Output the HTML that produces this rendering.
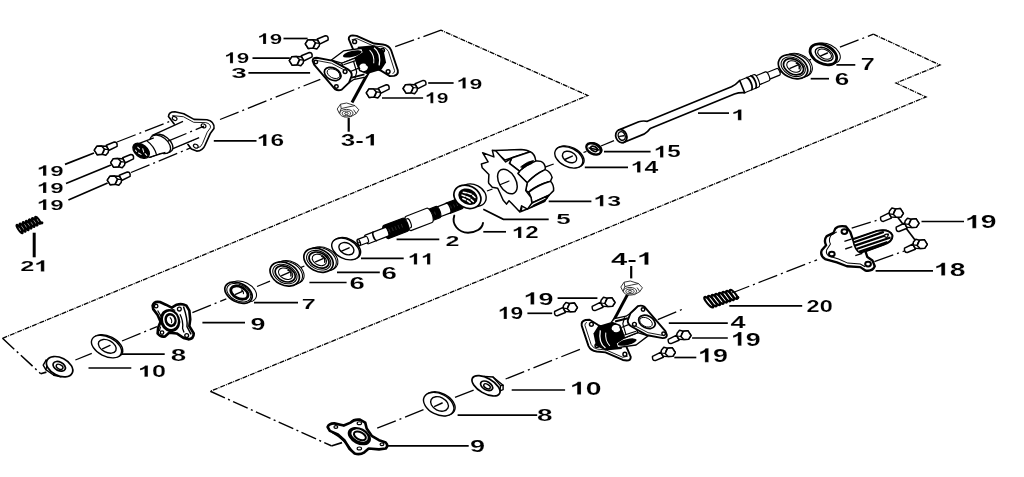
<!DOCTYPE html>
<html><head><meta charset="utf-8"><title>Parts diagram</title>
<style>
html,body{margin:0;padding:0;background:#fff;}
body{width:1024px;height:477px;overflow:hidden;font-family:"Liberation Sans",sans-serif;}
svg{display:block;}
.g1{fill:#000;stroke:#fff;stroke-width:18;}
text{font-family:"Liberation Sans",sans-serif;font-weight:bold;fill:#000;stroke:#fff;stroke-width:0.13px;}
.ld{stroke:#000;stroke-width:1.7;fill:none;}
.ld2{stroke:#000;stroke-width:1.3;fill:none;}
.tk{stroke:#000;stroke-width:3;fill:none;}
.tk2{stroke:#000;stroke-width:2.2;fill:none;}
.bd{stroke:#000;stroke-width:1.3;fill:none;stroke-dasharray:5 1 1 1;}
.ax2{stroke:#000;stroke-width:1.5;fill:none;stroke-dasharray:16 3.5 2 3.5;}
.ax{stroke:#000;stroke-width:1.3;fill:none;stroke-dasharray:20 4 2 4;}
.p{stroke:#000;stroke-width:1.4;fill:#fff;stroke-linejoin:round;stroke-linecap:round;}
.pn{stroke:#000;stroke-width:1.4;fill:none;stroke-linejoin:round;stroke-linecap:round;}
.pt{stroke:#000;stroke-width:1.05;fill:#fff;}
.pm{stroke:#000;stroke-width:1.7;fill:#fff;}
.pk3{stroke:#000;stroke-width:2.8;fill:#fff;}
.pk{stroke:#000;stroke-width:2.4;fill:#fff;stroke-linejoin:round;}
.pkn{stroke:#000;stroke-width:2.4;fill:none;stroke-linejoin:round;stroke-linecap:round;}
.f{fill:#000;stroke:none;}
.t{stroke:#000;stroke-width:0.8;fill:none;stroke-linecap:round;}
</style></head>
<body>
<svg width="1024" height="477" viewBox="0 0 1024 477">
<rect width="1024" height="477" fill="#fff"/>
<filter id="soft" x="0" y="0" width="1024" height="477" filterUnits="userSpaceOnUse"><feGaussianBlur stdDeviation="0.35"/></filter>
<g filter="url(#soft)">
<g id="lines">
<polyline class="ax2" points="2.5,338.3 40.7,373.7"/>
<polyline class="bd" points="2.5,338.3 587.8,95.5 441,30.2"/>
<polyline class="bd" points="873.4,34.2 940,65 896,83 926,97 210.3,391.3"/>
<polyline class="ax2" points="210.3,391.3 331.3,445.8"/>
<line class="ax" x1="75.4" y1="360" x2="91.8" y2="353.3"/>
<line class="ax" x1="122" y1="341" x2="157" y2="326.7"/>
<line class="ax" x1="192.4" y1="312.7" x2="226.3" y2="298.9"/>
<line class="ax" x1="257" y1="286.5" x2="270" y2="281.2"/>
<line class="ax" x1="839.9" y1="47.2" x2="873.4" y2="34.2"/>
<line class="ax" x1="601" y1="146" x2="614" y2="140.7"/>
<line class="ld2" x1="487" y1="191" x2="492.5" y2="189"/>
<line class="ld2" x1="545" y1="167.2" x2="553.7" y2="164"/>
<line class="ld2" x1="583.5" y1="152.5" x2="586.5" y2="151.3"/>
<line class="ld2" x1="779.5" y1="72.3" x2="783" y2="70.9"/>
<line class="ld2" x1="807.5" y1="60.8" x2="811" y2="59.4"/>
<line class="ld2" x1="300.6" y1="267.6" x2="304.4" y2="266"/>
<line class="ld2" x1="333.5" y1="254.3" x2="337" y2="252.9"/>
<line class="ax" x1="220" y1="119.5" x2="320.3" y2="79.3"/>
<line class="ax" x1="395.2" y1="46.7" x2="441" y2="30.2"/>
<line class="ax" x1="117" y1="142" x2="173.5" y2="120"/>
<line class="ax" x1="131" y1="172.5" x2="193.6" y2="146.6"/>
<line class="ax" x1="150" y1="157.5" x2="200" y2="137"/>
<line class="ax" x1="377.2" y1="428.2" x2="423.5" y2="409.7"/>
<line class="ax" x1="455" y1="397.4" x2="474" y2="390"/>
<line class="ax" x1="505.6" y1="379" x2="582.3" y2="348.4"/>
<line class="ax" x1="657.8" y1="319.6" x2="683.9" y2="308.6"/>
<line class="ax" x1="730.6" y1="293.5" x2="817" y2="259.8"/>
<line class="ax" x1="851.7" y1="228.2" x2="880.4" y2="219.2"/>
<line class="ax" x1="874.4" y1="261.7" x2="904.3" y2="251"/>
<line class="ld" x1="283.5" y1="38.5" x2="307.6" y2="38.5"/>
<line class="ld" x1="252.5" y1="58.1" x2="289.8" y2="58.1"/>
<line class="ld" x1="248.4" y1="72.8" x2="310.1" y2="72.8"/>
<line class="ld" x1="428.2" y1="83" x2="453.6" y2="83"/>
<line class="ld" x1="382" y1="98" x2="423.1" y2="98"/>
<line class="ld" x1="213.8" y1="140.8" x2="256.5" y2="140.8"/>
<line class="ld" x1="65" y1="164.4" x2="94" y2="153"/>
<line class="ld" x1="66" y1="183.5" x2="111" y2="165"/>
<line class="ld" x1="68.4" y1="200" x2="107.6" y2="183"/>
<line class="ld" x1="88.5" y1="368" x2="131.3" y2="368"/>
<line class="ld" x1="122" y1="354.2" x2="164.7" y2="354.2"/>
<line class="ld" x1="202.4" y1="322.7" x2="245" y2="322.7"/>
<line class="ld" x1="254" y1="302.6" x2="298" y2="302.6"/>
<line class="ld" x1="309.4" y1="282.5" x2="346.6" y2="282.5"/>
<line class="ld" x1="337" y1="272.4" x2="379.8" y2="272.4"/>
<line class="ld" x1="361" y1="258.3" x2="403.7" y2="258.3"/>
<line class="ld" x1="396.6" y1="239.4" x2="439.3" y2="239.4"/>
<line class="ld" x1="483.3" y1="231.8" x2="506" y2="231.8"/>
<line class="ld" x1="548.7" y1="201.4" x2="591.4" y2="201.4"/>
<line class="ld" x1="584.8" y1="167.4" x2="628" y2="167.4"/>
<line class="ld" x1="604" y1="151.6" x2="650.6" y2="151.6"/>
<line class="ld" x1="698" y1="113.1" x2="729" y2="113.1"/>
<line class="ld" x1="836.4" y1="64.9" x2="855.3" y2="64.9"/>
<line class="ld" x1="810.7" y1="78.7" x2="829" y2="78.7"/>
<line class="ld" x1="921.5" y1="221.5" x2="964" y2="221.5"/>
<line class="ld" x1="875.6" y1="270.8" x2="933" y2="270.8"/>
<line class="ld" x1="729.3" y1="305.9" x2="802.2" y2="305.9"/>
<line class="ld" x1="668.8" y1="323.2" x2="727.8" y2="323.2"/>
<line class="ld" x1="692.1" y1="338" x2="727.8" y2="338"/>
<line class="ld" x1="674.3" y1="357.5" x2="696.3" y2="357.5"/>
<line class="ld" x1="557.6" y1="298.2" x2="597.4" y2="298.2"/>
<line class="ld" x1="527.4" y1="313.3" x2="552.2" y2="313.3"/>
<line class="ld" x1="511.7" y1="390" x2="565.1" y2="390"/>
<line class="ld" x1="457.6" y1="415.1" x2="537.2" y2="415.1"/>
<line class="ld" x1="387.9" y1="445.8" x2="468.7" y2="445.8"/>
<polyline class="ld" points="483.3,209.2 503.4,219.3 548.7,219.3"/>
<line class="tk" x1="34.2" y1="232.7" x2="34.2" y2="257.3"/>
<line class="tk2" x1="348.7" y1="117.8" x2="348.7" y2="131.7"/>
<line class="tk" x1="352" y1="102.5" x2="368.6" y2="72"/>
<line class="tk2" x1="631.2" y1="266" x2="631.2" y2="278.4"/>
<line class="tk" x1="627.6" y1="294.4" x2="611.2" y2="325.1"/>
<line class="ld" x1="896" y1="215" x2="919.8" y2="246.2"/>
<g transform="translate(257.3 44.1) scale(1.469 1)">
<path class="g1" transform="translate(0.00 0) scale(0.00743 -0.00743)" d="M806,0 L525,0 L525,1059 Q371,915 162,846 L162,1101 Q272,1137 401,1237.5 Q530,1338 578,1472 L806,1472 Z"/>
<text x="8.46" y="0" font-size="15.22">9</text>
</g>
<g transform="translate(224.2 63.2) scale(1.462 1)">
<path class="g1" transform="translate(0.00 0) scale(0.00750 -0.00750)" d="M806,0 L525,0 L525,1059 Q371,915 162,846 L162,1101 Q272,1137 401,1237.5 Q530,1338 578,1472 L806,1472 Z"/>
<text x="8.54" y="0" font-size="15.36">9</text>
</g>
<g transform="translate(231.3 78.4) scale(1.835 1)">
<text x="0.00" y="0" font-size="15.22">3</text>
</g>
<g transform="translate(456.6 88.5) scale(1.501 1)">
<path class="g1" transform="translate(0.00 0) scale(0.00750 -0.00750)" d="M806,0 L525,0 L525,1059 Q371,915 162,846 L162,1101 Q272,1137 401,1237.5 Q530,1338 578,1472 L806,1472 Z"/>
<text x="8.54" y="0" font-size="15.36">9</text>
</g>
<g transform="translate(425.0 103.3) scale(1.383 1)">
<path class="g1" transform="translate(0.00 0) scale(0.00743 -0.00743)" d="M806,0 L525,0 L525,1059 Q371,915 162,846 L162,1101 Q272,1137 401,1237.5 Q530,1338 578,1472 L806,1472 Z"/>
<text x="8.46" y="0" font-size="15.22">9</text>
</g>
<g transform="translate(256.8 145.9) scale(1.510 1)">
<path class="g1" transform="translate(0.00 0) scale(0.00791 -0.00791)" d="M806,0 L525,0 L525,1059 Q371,915 162,846 L162,1101 Q272,1137 401,1237.5 Q530,1338 578,1472 L806,1472 Z"/>
<text x="9.01" y="0" font-size="16.20">6</text>
</g>
<g transform="translate(340.7 145.5) scale(1.618 1)">
<text x="0.00" y="0" font-size="16.06">3</text>
<text x="8.93" y="0" font-size="16.06">-</text>
<path class="g1" transform="translate(14.28 0) scale(0.00784 -0.00784)" d="M806,0 L525,0 L525,1059 Q371,915 162,846 L162,1101 Q272,1137 401,1237.5 Q530,1338 578,1472 L806,1472 Z"/>
</g>
<g transform="translate(36.8 175.8) scale(1.633 1)">
<path class="g1" transform="translate(0.00 0) scale(0.00723 -0.00723)" d="M806,0 L525,0 L525,1059 Q371,915 162,846 L162,1101 Q272,1137 401,1237.5 Q530,1338 578,1472 L806,1472 Z"/>
<text x="8.23" y="0" font-size="14.80">9</text>
</g>
<g transform="translate(36.8 193.0) scale(1.617 1)">
<path class="g1" transform="translate(0.00 0) scale(0.00730 -0.00730)" d="M806,0 L525,0 L525,1059 Q371,915 162,846 L162,1101 Q272,1137 401,1237.5 Q530,1338 578,1472 L806,1472 Z"/>
<text x="8.31" y="0" font-size="14.94">9</text>
</g>
<g transform="translate(36.8 210.0) scale(1.633 1)">
<path class="g1" transform="translate(0.00 0) scale(0.00723 -0.00723)" d="M806,0 L525,0 L525,1059 Q371,915 162,846 L162,1101 Q272,1137 401,1237.5 Q530,1338 578,1472 L806,1472 Z"/>
<text x="8.23" y="0" font-size="14.80">9</text>
</g>
<g transform="translate(20.2 271.4) scale(1.637 1)">
<text x="0.00" y="0" font-size="15.50">2</text>
<path class="g1" transform="translate(8.62 0) scale(0.00757 -0.00757)" d="M806,0 L525,0 L525,1059 Q371,915 162,846 L162,1101 Q272,1137 401,1237.5 Q530,1338 578,1472 L806,1472 Z"/>
</g>
<g transform="translate(138.0 376.8) scale(1.595 1)">
<path class="g1" transform="translate(0.00 0) scale(0.00771 -0.00771)" d="M806,0 L525,0 L525,1059 Q371,915 162,846 L162,1101 Q272,1137 401,1237.5 Q530,1338 578,1472 L806,1472 Z"/>
<text x="8.77" y="0" font-size="15.78">0</text>
</g>
<g transform="translate(170.8 360.5) scale(1.727 1)">
<text x="0.00" y="0" font-size="16.06">8</text>
</g>
<g transform="translate(250.4 329.6) scale(1.719 1)">
<text x="0.00" y="0" font-size="15.64">9</text>
</g>
<g transform="translate(301.7 308.6) scale(1.641 1)">
<text x="0.00" y="0" font-size="15.36">7</text>
</g>
<g transform="translate(349.5 289.3) scale(1.656 1)">
<text x="0.00" y="0" font-size="16.62">6</text>
</g>
<g transform="translate(381.6 278.5) scale(1.669 1)">
<text x="0.00" y="0" font-size="16.62">6</text>
</g>
<g transform="translate(407.8 264.6) scale(1.499 1)">
<path class="g1" transform="translate(0.00 0) scale(0.00771 -0.00771)" d="M806,0 L525,0 L525,1059 Q371,915 162,846 L162,1101 Q272,1137 401,1237.5 Q530,1338 578,1472 L806,1472 Z"/>
<path class="g1" transform="translate(8.77 0) scale(0.00771 -0.00771)" d="M806,0 L525,0 L525,1059 Q371,915 162,846 L162,1101 Q272,1137 401,1237.5 Q530,1338 578,1472 L806,1472 Z"/>
</g>
<g transform="translate(445.6 245.7) scale(1.689 1)">
<text x="0.00" y="0" font-size="14.80">2</text>
</g>
<g transform="translate(511.8 238.1) scale(1.531 1)">
<path class="g1" transform="translate(0.00 0) scale(0.00771 -0.00771)" d="M806,0 L525,0 L525,1059 Q371,915 162,846 L162,1101 Q272,1137 401,1237.5 Q530,1338 578,1472 L806,1472 Z"/>
<text x="8.77" y="0" font-size="15.78">2</text>
</g>
<g transform="translate(556.2 223.5) scale(1.696 1)">
<text x="0.00" y="0" font-size="15.36">5</text>
</g>
<g transform="translate(593.5 206.2) scale(1.611 1)">
<path class="g1" transform="translate(0.00 0) scale(0.00757 -0.00757)" d="M806,0 L525,0 L525,1059 Q371,915 162,846 L162,1101 Q272,1137 401,1237.5 Q530,1338 578,1472 L806,1472 Z"/>
<text x="8.62" y="0" font-size="15.50">3</text>
</g>
<g transform="translate(630.7 172.5) scale(1.570 1)">
<path class="g1" transform="translate(0.00 0) scale(0.00771 -0.00771)" d="M806,0 L525,0 L525,1059 Q371,915 162,846 L162,1101 Q272,1137 401,1237.5 Q530,1338 578,1472 L806,1472 Z"/>
<text x="8.77" y="0" font-size="15.78">4</text>
</g>
<g transform="translate(653.8 157.4) scale(1.498 1)">
<path class="g1" transform="translate(0.00 0) scale(0.00791 -0.00791)" d="M806,0 L525,0 L525,1059 Q371,915 162,846 L162,1101 Q272,1137 401,1237.5 Q530,1338 578,1472 L806,1472 Z"/>
<text x="9.01" y="0" font-size="16.20">5</text>
</g>
<g transform="translate(731.2 120.2) scale(1.758 1)">
<path class="g1" transform="translate(0.00 0) scale(0.00723 -0.00723)" d="M806,0 L525,0 L525,1059 Q371,915 162,846 L162,1101 Q272,1137 401,1237.5 Q530,1338 578,1472 L806,1472 Z"/>
</g>
<g transform="translate(860.7 70.2) scale(1.612 1)">
<text x="0.00" y="0" font-size="15.64">7</text>
</g>
<g transform="translate(834.7 85.0) scale(1.636 1)">
<text x="0.00" y="0" font-size="15.92">6</text>
</g>
<g transform="translate(965.1 228.2) scale(1.547 1)">
<path class="g1" transform="translate(0.00 0) scale(0.00893 -0.00893)" d="M806,0 L525,0 L525,1059 Q371,915 162,846 L162,1101 Q272,1137 401,1237.5 Q530,1338 578,1472 L806,1472 Z"/>
<text x="10.17" y="0" font-size="18.30">9</text>
</g>
<g transform="translate(934.0 275.6) scale(1.595 1)">
<path class="g1" transform="translate(0.00 0) scale(0.00866 -0.00866)" d="M806,0 L525,0 L525,1059 Q371,915 162,846 L162,1101 Q272,1137 401,1237.5 Q530,1338 578,1472 L806,1472 Z"/>
<text x="9.86" y="0" font-size="17.74">8</text>
</g>
<g transform="translate(806.6 312.4) scale(1.354 1)">
<text x="0.00" y="0" font-size="17.32">2</text>
<text x="9.63" y="0" font-size="17.32">0</text>
</g>
<g transform="translate(730.6 328.4) scale(1.687 1)">
<text x="0.00" y="0" font-size="16.06">4</text>
</g>
<g transform="translate(730.9 345.7) scale(1.405 1)">
<path class="g1" transform="translate(0.00 0) scale(0.00934 -0.00934)" d="M806,0 L525,0 L525,1059 Q371,915 162,846 L162,1101 Q272,1137 401,1237.5 Q530,1338 578,1472 L806,1472 Z"/>
<text x="10.64" y="0" font-size="19.13">9</text>
</g>
<g transform="translate(698.0 362.2) scale(1.395 1)">
<path class="g1" transform="translate(0.00 0) scale(0.00941 -0.00941)" d="M806,0 L525,0 L525,1059 Q371,915 162,846 L162,1101 Q272,1137 401,1237.5 Q530,1338 578,1472 L806,1472 Z"/>
<text x="10.72" y="0" font-size="19.27">9</text>
</g>
<g transform="translate(611.0 264.7) scale(1.700 1)">
<text x="0.00" y="0" font-size="17.18">4</text>
<text x="9.55" y="0" font-size="17.18">-</text>
<path class="g1" transform="translate(15.27 0) scale(0.00839 -0.00839)" d="M806,0 L525,0 L525,1059 Q371,915 162,846 L162,1101 Q272,1137 401,1237.5 Q530,1338 578,1472 L806,1472 Z"/>
</g>
<g transform="translate(523.6 304.5) scale(1.571 1)">
<path class="g1" transform="translate(0.00 0) scale(0.00839 -0.00839)" d="M806,0 L525,0 L525,1059 Q371,915 162,846 L162,1101 Q272,1137 401,1237.5 Q530,1338 578,1472 L806,1472 Z"/>
<text x="9.55" y="0" font-size="17.18">9</text>
</g>
<g transform="translate(497.9 319.0) scale(1.325 1)">
<path class="g1" transform="translate(0.00 0) scale(0.00839 -0.00839)" d="M806,0 L525,0 L525,1059 Q371,915 162,846 L162,1101 Q272,1137 401,1237.5 Q530,1338 578,1472 L806,1472 Z"/>
<text x="9.55" y="0" font-size="17.18">9</text>
</g>
<g transform="translate(569.9 394.6) scale(1.583 1)">
<path class="g1" transform="translate(0.00 0) scale(0.00873 -0.00873)" d="M806,0 L525,0 L525,1059 Q371,915 162,846 L162,1101 Q272,1137 401,1237.5 Q530,1338 578,1472 L806,1472 Z"/>
<text x="9.94" y="0" font-size="17.88">0</text>
</g>
<g transform="translate(537.0 421.2) scale(1.626 1)">
<text x="0.00" y="0" font-size="17.18">8</text>
</g>
<g transform="translate(470.1 451.6) scale(1.631 1)">
<text x="0.00" y="0" font-size="16.62">9</text>
</g>
</g>
<g id="parts">
<ellipse class="p" cx="107.7" cy="346.0" rx="16.2" ry="9.6" transform="rotate(27 107.7 346.0)"/>
<ellipse class="p" cx="106.5" cy="346.6" rx="16.2" ry="9.6" transform="rotate(27 106.5 346.6)"/>
<ellipse class="p" cx="107.3" cy="346.3" rx="9.6" ry="6.0" transform="rotate(27 107.3 346.3)"/>
<path class="pn" d="M102.5,348.8 L110.0,345.4"/>
<ellipse class="pt" cx="243.0" cy="291.5" rx="14.4" ry="9.3" transform="rotate(27 243.0 291.5)"/>
<ellipse class="pm" cx="238.5" cy="292.7" rx="14.6" ry="9.4" transform="rotate(27 238.5 292.7)"/>
<ellipse class="pt" cx="238.8" cy="292.7" rx="12.8" ry="8.1" transform="rotate(27 238.8 292.7)"/>
<ellipse class="pk3" cx="239.4" cy="292.6" rx="9.2" ry="5.8" transform="rotate(27 239.4 292.6)"/>
<path class="pn" d="M235.5,294.3 L242.5,291.3"/>
<path class="pt" style="fill:none" d="M241.0,289.7 q3,1.2 2.4,4.4"/>
<ellipse class="pt" cx="289.7" cy="272.4" rx="15.2" ry="10.8" transform="rotate(27 289.7 272.4)"/>
<ellipse class="pt" cx="287.9" cy="273.0" rx="15.4" ry="10.9" transform="rotate(27 287.9 273.0)"/>
<ellipse class="pm" cx="284.7" cy="274.0" rx="15.5" ry="11.0" transform="rotate(27 284.7 274.0)"/>
<ellipse class="pt" cx="284.9" cy="274.0" rx="12.8" ry="8.9" transform="rotate(27 284.9 274.0)"/>
<ellipse class="pm" cx="285.2" cy="273.9" rx="10.6" ry="7.3" transform="rotate(27 285.2 273.9)"/>
<ellipse class="pt" cx="285.6" cy="273.7" rx="7.6" ry="5.2" transform="rotate(27 285.6 273.7)"/>
<path class="pn" d="M281.7,275.6 L289.2,272.4"/>
<path class="pn" d="M287.9,270.2 q3.8,1.4 3.0,5.8"/>
<ellipse class="pt" cx="323.5" cy="258.6" rx="15.2" ry="10.8" transform="rotate(27 323.5 258.6)"/>
<ellipse class="pt" cx="321.7" cy="259.2" rx="15.4" ry="10.9" transform="rotate(27 321.7 259.2)"/>
<ellipse class="pm" cx="318.5" cy="260.2" rx="15.5" ry="11.0" transform="rotate(27 318.5 260.2)"/>
<ellipse class="pt" cx="318.7" cy="260.2" rx="12.8" ry="8.9" transform="rotate(27 318.7 260.2)"/>
<ellipse class="pm" cx="319.0" cy="260.1" rx="10.6" ry="7.3" transform="rotate(27 319.0 260.1)"/>
<ellipse class="pt" cx="319.4" cy="259.9" rx="7.6" ry="5.2" transform="rotate(27 319.4 259.9)"/>
<path class="pn" d="M315.5,261.8 L323.0,258.6"/>
<path class="pn" d="M321.7,256.4 q3.8,1.4 3.0,5.8"/>
<ellipse class="p" cx="346.8" cy="248.4" rx="14.8" ry="9.6" transform="rotate(27 346.8 248.4)"/>
<ellipse class="p" cx="345.6" cy="249.0" rx="14.8" ry="9.6" transform="rotate(27 345.6 249.0)"/>
<ellipse class="p" cx="346.4" cy="248.7" rx="8.0" ry="5.6" transform="rotate(27 346.4 248.7)"/>
<path class="pn" d="M341.6,251.2 L349.1,247.8"/>
<ellipse class="p" cx="570.0" cy="156.7" rx="15.0" ry="9.4" transform="rotate(27 570.0 156.7)"/>
<ellipse class="p" cx="568.8" cy="157.3" rx="15.0" ry="9.4" transform="rotate(27 568.8 157.3)"/>
<ellipse class="p" cx="569.6" cy="157.0" rx="7.6" ry="5.2" transform="rotate(27 569.6 157.0)"/>
<path class="pn" d="M564.8,159.5 L572.3,156.1"/>
<ellipse class="pt" cx="798.0" cy="65.2" rx="15.2" ry="10.8" transform="rotate(27 798.0 65.2)"/>
<ellipse class="pt" cx="796.2" cy="65.8" rx="15.4" ry="10.9" transform="rotate(27 796.2 65.8)"/>
<ellipse class="pm" cx="793.0" cy="66.8" rx="15.5" ry="11.0" transform="rotate(27 793.0 66.8)"/>
<ellipse class="pt" cx="793.2" cy="66.8" rx="12.8" ry="8.9" transform="rotate(27 793.2 66.8)"/>
<ellipse class="pm" cx="793.5" cy="66.7" rx="10.6" ry="7.3" transform="rotate(27 793.5 66.7)"/>
<ellipse class="pt" cx="793.9" cy="66.5" rx="7.6" ry="5.2" transform="rotate(27 793.9 66.5)"/>
<path class="pn" d="M790.0,68.4 L797.5,65.2"/>
<path class="pn" d="M796.2,63.0 q3.8,1.4 3.0,5.8"/>
<ellipse class="pt" cx="827.0" cy="53.4" rx="14.2" ry="9.2" transform="rotate(27 827.0 53.4)"/>
<ellipse class="pk3" cx="823.4" cy="54.4" rx="14.2" ry="9.2" transform="rotate(27 823.4 54.4)"/>
<ellipse class="p" cx="824.2" cy="54.2" rx="9.6" ry="6.0" transform="rotate(27 824.2 54.2)"/>
<ellipse class="pt" cx="824.6" cy="54.1" rx="7.4" ry="4.4" transform="rotate(27 824.6 54.1)"/>
<path class="pn" d="M820.8,55.8 L827.4,53.0"/>
<ellipse class="p" cx="439.9" cy="403.6" rx="16.2" ry="10.4" transform="rotate(27 439.9 403.6)"/>
<ellipse class="p" cx="438.7" cy="404.2" rx="16.2" ry="10.4" transform="rotate(27 438.7 404.2)"/>
<ellipse class="p" cx="439.5" cy="403.9" rx="9.4" ry="6.6" transform="rotate(27 439.5 403.9)"/>
<path class="pn" d="M434.7,406.4 L442.2,403.0"/>
<g transform="translate(305.0 36.5)" stroke="#000" stroke-width="1.5" fill="#fff" stroke-linejoin="round">
<path d="M12.3,2.5 L20.3,-0.8 Q23.6,-1 23.1,3.5 L14.6,7.7 Z"/>
<path d="M0.3,7.3 L2.8,3.5 L7.5,3.3 L12.3,3.5 L14.6,6.8 L14.2,9.6 L11.8,12.5 L8,11.5 L3.3,12 Z"/>
<path d="M0.3,7.3 L2.8,3.5 L7.5,3.3 L10.4,6.3 L8,11.5 L3.3,12 Z"/>
<path d="M10.4,6.3 L14.6,6.8 M8,11.5 L9.6,9.2 L10.4,6.3" fill="none" stroke-width="1.2"/>
</g>
<g transform="translate(289.0 53.3)" stroke="#000" stroke-width="1.5" fill="#fff" stroke-linejoin="round">
<path d="M12.3,2.5 L20.3,-0.8 Q23.6,-1 23.1,3.5 L14.6,7.7 Z"/>
<path d="M0.3,7.3 L2.8,3.5 L7.5,3.3 L12.3,3.5 L14.6,6.8 L14.2,9.6 L11.8,12.5 L8,11.5 L3.3,12 Z"/>
<path d="M0.3,7.3 L2.8,3.5 L7.5,3.3 L10.4,6.3 L8,11.5 L3.3,12 Z"/>
<path d="M10.4,6.3 L14.6,6.8 M8,11.5 L9.6,9.2 L10.4,6.3" fill="none" stroke-width="1.2"/>
</g>
<g transform="translate(402.8 81.2)" stroke="#000" stroke-width="1.5" fill="#fff" stroke-linejoin="round">
<path d="M12.3,2.5 L20.3,-0.8 Q23.6,-1 23.1,3.5 L14.6,7.7 Z"/>
<path d="M0.3,7.3 L2.8,3.5 L7.5,3.3 L12.3,3.5 L14.6,6.8 L14.2,9.6 L11.8,12.5 L8,11.5 L3.3,12 Z"/>
<path d="M0.3,7.3 L2.8,3.5 L7.5,3.3 L10.4,6.3 L8,11.5 L3.3,12 Z"/>
<path d="M10.4,6.3 L14.6,6.8 M8,11.5 L9.6,9.2 L10.4,6.3" fill="none" stroke-width="1.2"/>
</g>
<g transform="translate(366.0 85.6)" stroke="#000" stroke-width="1.5" fill="#fff" stroke-linejoin="round">
<path d="M12.3,2.5 L20.3,-0.8 Q23.6,-1 23.1,3.5 L14.6,7.7 Z"/>
<path d="M0.3,7.3 L2.8,3.5 L7.5,3.3 L12.3,3.5 L14.6,6.8 L14.2,9.6 L11.8,12.5 L8,11.5 L3.3,12 Z"/>
<path d="M0.3,7.3 L2.8,3.5 L7.5,3.3 L10.4,6.3 L8,11.5 L3.3,12 Z"/>
<path d="M10.4,6.3 L14.6,6.8 M8,11.5 L9.6,9.2 L10.4,6.3" fill="none" stroke-width="1.2"/>
</g>
<g transform="translate(94.0 142.8)" stroke="#000" stroke-width="1.5" fill="#fff" stroke-linejoin="round">
<path d="M12.3,2.5 L20.3,-0.8 Q23.6,-1 23.1,3.5 L14.6,7.7 Z"/>
<path d="M0.3,7.3 L2.8,3.5 L7.5,3.3 L12.3,3.5 L14.6,6.8 L14.2,9.6 L11.8,12.5 L8,11.5 L3.3,12 Z"/>
<path d="M0.3,7.3 L2.8,3.5 L7.5,3.3 L10.4,6.3 L8,11.5 L3.3,12 Z"/>
<path d="M10.4,6.3 L14.6,6.8 M8,11.5 L9.6,9.2 L10.4,6.3" fill="none" stroke-width="1.2"/>
</g>
<g transform="translate(110.4 155.3)" stroke="#000" stroke-width="1.5" fill="#fff" stroke-linejoin="round">
<path d="M12.3,2.5 L20.3,-0.8 Q23.6,-1 23.1,3.5 L14.6,7.7 Z"/>
<path d="M0.3,7.3 L2.8,3.5 L7.5,3.3 L12.3,3.5 L14.6,6.8 L14.2,9.6 L11.8,12.5 L8,11.5 L3.3,12 Z"/>
<path d="M0.3,7.3 L2.8,3.5 L7.5,3.3 L10.4,6.3 L8,11.5 L3.3,12 Z"/>
<path d="M10.4,6.3 L14.6,6.8 M8,11.5 L9.6,9.2 L10.4,6.3" fill="none" stroke-width="1.2"/>
</g>
<g transform="translate(107.0 172.8)" stroke="#000" stroke-width="1.5" fill="#fff" stroke-linejoin="round">
<path d="M12.3,2.5 L20.3,-0.8 Q23.6,-1 23.1,3.5 L14.6,7.7 Z"/>
<path d="M0.3,7.3 L2.8,3.5 L7.5,3.3 L12.3,3.5 L14.6,6.8 L14.2,9.6 L11.8,12.5 L8,11.5 L3.3,12 Z"/>
<path d="M0.3,7.3 L2.8,3.5 L7.5,3.3 L10.4,6.3 L8,11.5 L3.3,12 Z"/>
<path d="M10.4,6.3 L14.6,6.8 M8,11.5 L9.6,9.2 L10.4,6.3" fill="none" stroke-width="1.2"/>
</g>
<g transform="translate(615.3 309.8) rotate(180)" stroke="#000" stroke-width="1.5" fill="#fff" stroke-linejoin="round">
<path d="M12.3,2.5 L20.3,-0.8 Q23.6,-1 23.1,3.5 L14.6,7.7 Z"/>
<path d="M0.3,7.3 L2.8,3.5 L7.5,3.3 L12.3,3.5 L14.6,6.8 L14.2,9.6 L11.8,12.5 L8,11.5 L3.3,12 Z"/>
<path d="M0.3,7.3 L2.8,3.5 L7.5,3.3 L10.4,6.3 L8,11.5 L3.3,12 Z"/>
<path d="M10.4,6.3 L14.6,6.8 M8,11.5 L9.6,9.2 L10.4,6.3" fill="none" stroke-width="1.2"/>
</g>
<g transform="translate(577.7 315.0) rotate(180)" stroke="#000" stroke-width="1.5" fill="#fff" stroke-linejoin="round">
<path d="M12.3,2.5 L20.3,-0.8 Q23.6,-1 23.1,3.5 L14.6,7.7 Z"/>
<path d="M0.3,7.3 L2.8,3.5 L7.5,3.3 L12.3,3.5 L14.6,6.8 L14.2,9.6 L11.8,12.5 L8,11.5 L3.3,12 Z"/>
<path d="M0.3,7.3 L2.8,3.5 L7.5,3.3 L10.4,6.3 L8,11.5 L3.3,12 Z"/>
<path d="M10.4,6.3 L14.6,6.8 M8,11.5 L9.6,9.2 L10.4,6.3" fill="none" stroke-width="1.2"/>
</g>
<g transform="translate(691.3 342.8) rotate(180)" stroke="#000" stroke-width="1.5" fill="#fff" stroke-linejoin="round">
<path d="M12.3,2.5 L20.3,-0.8 Q23.6,-1 23.1,3.5 L14.6,7.7 Z"/>
<path d="M0.3,7.3 L2.8,3.5 L7.5,3.3 L12.3,3.5 L14.6,6.8 L14.2,9.6 L11.8,12.5 L8,11.5 L3.3,12 Z"/>
<path d="M0.3,7.3 L2.8,3.5 L7.5,3.3 L10.4,6.3 L8,11.5 L3.3,12 Z"/>
<path d="M10.4,6.3 L14.6,6.8 M8,11.5 L9.6,9.2 L10.4,6.3" fill="none" stroke-width="1.2"/>
</g>
<g transform="translate(675.6 359.8) rotate(180)" stroke="#000" stroke-width="1.5" fill="#fff" stroke-linejoin="round">
<path d="M12.3,2.5 L20.3,-0.8 Q23.6,-1 23.1,3.5 L14.6,7.7 Z"/>
<path d="M0.3,7.3 L2.8,3.5 L7.5,3.3 L12.3,3.5 L14.6,6.8 L14.2,9.6 L11.8,12.5 L8,11.5 L3.3,12 Z"/>
<path d="M0.3,7.3 L2.8,3.5 L7.5,3.3 L10.4,6.3 L8,11.5 L3.3,12 Z"/>
<path d="M10.4,6.3 L14.6,6.8 M8,11.5 L9.6,9.2 L10.4,6.3" fill="none" stroke-width="1.2"/>
</g>
<g transform="translate(903.7 220.6) rotate(180)" stroke="#000" stroke-width="1.5" fill="#fff" stroke-linejoin="round">
<path d="M12.3,2.5 L20.3,-0.8 Q23.6,-1 23.1,3.5 L14.6,7.7 Z"/>
<path d="M0.3,7.3 L2.8,3.5 L7.5,3.3 L12.3,3.5 L14.6,6.8 L14.2,9.6 L11.8,12.5 L8,11.5 L3.3,12 Z"/>
<path d="M0.3,7.3 L2.8,3.5 L7.5,3.3 L10.4,6.3 L8,11.5 L3.3,12 Z"/>
<path d="M10.4,6.3 L14.6,6.8 M8,11.5 L9.6,9.2 L10.4,6.3" fill="none" stroke-width="1.2"/>
</g>
<g transform="translate(919.3 230.7) rotate(180)" stroke="#000" stroke-width="1.5" fill="#fff" stroke-linejoin="round">
<path d="M12.3,2.5 L20.3,-0.8 Q23.6,-1 23.1,3.5 L14.6,7.7 Z"/>
<path d="M0.3,7.3 L2.8,3.5 L7.5,3.3 L12.3,3.5 L14.6,6.8 L14.2,9.6 L11.8,12.5 L8,11.5 L3.3,12 Z"/>
<path d="M0.3,7.3 L2.8,3.5 L7.5,3.3 L10.4,6.3 L8,11.5 L3.3,12 Z"/>
<path d="M10.4,6.3 L14.6,6.8 M8,11.5 L9.6,9.2 L10.4,6.3" fill="none" stroke-width="1.2"/>
</g>
<g transform="translate(927.6 251.7) rotate(180)" stroke="#000" stroke-width="1.5" fill="#fff" stroke-linejoin="round">
<path d="M12.3,2.5 L20.3,-0.8 Q23.6,-1 23.1,3.5 L14.6,7.7 Z"/>
<path d="M0.3,7.3 L2.8,3.5 L7.5,3.3 L12.3,3.5 L14.6,6.8 L14.2,9.6 L11.8,12.5 L8,11.5 L3.3,12 Z"/>
<path d="M0.3,7.3 L2.8,3.5 L7.5,3.3 L10.4,6.3 L8,11.5 L3.3,12 Z"/>
<path d="M10.4,6.3 L14.6,6.8 M8,11.5 L9.6,9.2 L10.4,6.3" fill="none" stroke-width="1.2"/>
</g>
<g transform="translate(357.5 243.0) rotate(-21)">
<path d="M97,-5.5 L110,-5.5 A2.2,5.5 0 0 1 110,5.5 L97,5.5 A2.2,5.5 0 0 1 97,-5.5 Z" fill="#000" stroke="#000" stroke-width="1.2"/>
<path d="M100.2,-1.6 l0,3.0" stroke="#666" stroke-width="0.4"/>
<path d="M103.5,-1.6 l0,3.0" stroke="#666" stroke-width="0.4"/>
<path d="M106.8,-1.6 l0,3.0" stroke="#666" stroke-width="0.4"/>
<path d="M86,-5.2 L97,-5.2 A2.1,5.2 0 0 1 97,5.2 L86,5.2 A2.1,5.2 0 0 1 86,-5.2 Z" fill="#fff" stroke="#000" stroke-width="1.2"/>
<path d="M77,-6.0 L86,-6.0 A2.4,6.0 0 0 1 86,6.0 L77,6.0 A2.4,6.0 0 0 1 77,-6.0 Z" fill="#000" stroke="#000" stroke-width="1.2"/>
<path d="M80.0,-1.8 l0,3.3" stroke="#666" stroke-width="0.4"/>
<path d="M83.0,-1.8 l0,3.3" stroke="#666" stroke-width="0.4"/>
<path d="M55,-7.6 L77,-7.6 A3.0,7.6 0 0 1 77,7.6 L55,7.6 A3.0,7.6 0 0 1 55,-7.6 Z" fill="#fff" stroke="#000" stroke-width="1.2"/>
<path d="M51,-4.8 L55,-4.8 A1.9,4.8 0 0 1 55,4.8 L51,4.8 A1.9,4.8 0 0 1 51,-4.8 Z" fill="#fff" stroke="#000" stroke-width="1.2"/>
<path d="M31,-7.0 L51,-7.0 A2.8,7.0 0 0 1 51,7.0 L31,7.0 A2.8,7.0 0 0 1 31,-7.0 Z" fill="#000" stroke="#000" stroke-width="1.2"/>
<path d="M34.3,-2.1 l0,3.9" stroke="#666" stroke-width="0.4"/>
<path d="M37.7,-2.1 l0,3.9" stroke="#666" stroke-width="0.4"/>
<path d="M41.0,-2.1 l0,3.9" stroke="#666" stroke-width="0.4"/>
<path d="M44.3,-2.1 l0,3.9" stroke="#666" stroke-width="0.4"/>
<path d="M47.7,-2.1 l0,3.9" stroke="#666" stroke-width="0.4"/>
<path d="M10,-4.6 L31,-4.6 A1.8,4.6 0 0 1 31,4.6 L10,4.6 A1.8,4.6 0 0 1 10,-4.6 Z" fill="#fff" stroke="#000" stroke-width="1.2"/>
<path d="M1.5,-3.3 L10,-3.3 A1.3,3.3 0 0 1 10,3.3 L1.5,3.3 A1.3,3.3 0 0 1 1.5,-3.3 Z" fill="#fff" stroke="#000" stroke-width="1.2"/>
<path d="M19,-4.6 A1.8,4.6 0 0 0 19,4.6" fill="none" stroke="#000" stroke-width="1.7"/><ellipse cx="1.5" cy="0" rx="1.3" ry="3.3" fill="#fff" stroke="#000" stroke-width="1.3"/><circle cx="1.7" cy="0" r="0.9" fill="#000"/>
</g>
<g transform="translate(621.0 136.3) rotate(-22.3)">
<path d="M158,-3.6 L170,-3.6 A1.4,3.6 0 0 1 170,3.6 L158,3.6 A1.4,3.6 0 0 1 158,-3.6 Z" fill="#fff" stroke="#000" stroke-width="1.2"/>
<path d="M146,-4.8 L158,-4.8 A1.9,4.8 0 0 1 158,4.8 L146,4.8 A1.9,4.8 0 0 1 146,-4.8 Z" fill="#fff" stroke="#000" stroke-width="1.2"/>
<path d="M131,-6.6 L146,-6.6 A2.6,6.6 0 0 1 146,6.6 L131,6.6 A2.6,6.6 0 0 1 131,-6.6 Z" fill="#fff" stroke="#000" stroke-width="1.2"/>

</g>
<g transform="translate(621 136.3) rotate(-22.3)">
<path d="M0,-6.7 L22,-6.7 Q26,-6.4 30,-3.9 L121,-3.9 Q126,-4.2 131,-6.6 L131,6.6 Q126,4.2 121,3.9 L30,3.9 Q26,6.4 22,6.7 L0,6.7 Z" fill="#fff" stroke="#000" stroke-width="1.7" stroke-linejoin="round"/>
<ellipse cx="0.3" cy="0" rx="5.4" ry="6.7" fill="#fff" stroke="#000" stroke-width="1.8"/>
<ellipse class="pn" cx="0.8" cy="0" rx="3.4" ry="4.4"/>
<path class="pn" d="M-1.2,-0.4 L2.8,0.6"/>
<path d="M138,-6.6 A2.6,6.6 0 0 1 138,6.6 M142.5,-6.6 A2.6,6.6 0 0 1 142.5,6.6" fill="none" stroke="#000" stroke-width="1.8"/>
</g>
<ellipse class="p" cx="473.0" cy="195.2" rx="13.8" ry="10.6" transform="rotate(27 473.0 195.2)"/>
<ellipse class="pm" cx="467.4" cy="196.8" rx="14.1" ry="11.0" transform="rotate(27 467.4 196.8)"/>
<ellipse cx="468.0" cy="196.7" rx="9.4" ry="7.0" transform="rotate(27 468.0 196.7)" fill="#000" stroke="#000" stroke-width="1.5"/>
<g transform="translate(468.2 196.7) rotate(27)" stroke="#fff" stroke-width="1.5" stroke-linecap="round">
<path d="M-6.5,-1.8 L-3.5,-2.6 M-2,-3 L1.5,-3.6 M3.4,-3.2 L6.4,-2.4 M-6.2,1.4 L-3,1 M-1.4,0.8 L2.2,0.6 M4,1.2 L6.8,2 M-4,4 L-1,3.9 M1,4 L4.4,4.4"/>
</g>
<path d="M454.3,215.6 C451.5,224 458,232.5 468,232.7 C476,232.6 482,229 483,223" fill="none" stroke="#000" stroke-width="1.9" stroke-linecap="round"/>
<ellipse class="p" cx="594.8" cy="148.2" rx="7.6" ry="4.8" transform="rotate(27 594.8 148.2)"/>
<ellipse class="pk" cx="593.6" cy="148.9" rx="7.8" ry="5.0" transform="rotate(27 593.6 148.9)"/>
<ellipse class="pm" cx="594.0" cy="148.8" rx="3.6" ry="2.2" transform="rotate(27 594.0 148.8)"/>
<path class="pn" d="M589,148 L599,150"/>
<g stroke="#000" stroke-width="1.5" fill="#fff" stroke-linejoin="round" stroke-linecap="round">
<path d="M493.9,150.5 L521,149.4 Q527,149.6 530.3,151.8 L513.3,157.2 L511.7,158 L505,160 Z"/>
<path d="M511.7,158 L530.3,151.8 Q535,154 535.8,161.1 L519.5,171.2 L509.4,163.4 Z"/>
<path d="M519.5,171.2 Q526,165 535.8,161.1 Q541,160.6 542.8,162.6 Q546,166 545.1,169.6 L527.2,182.8 L517.9,173.5 Z"/>
<path d="M527.2,182.8 Q535,174.5 545.1,169.6 Q550.5,171.5 552.1,177.4 L550.5,181.3 L528.8,192.1 L525.7,190.6 Z"/>
<path d="M528.8,192.1 Q538,185 550.5,181.3 Q554,185 553.6,190.6 L549,195.2 L531.9,203 L531.1,197.6 Z"/>
<path d="M531.9,203 L549,195.2 L544.3,201.5 L530.3,207.7 L521,211.5 L522,206 Z"/>
<path d="M533,205.5 L547,198.5 M531.5,207 L545.5,200.6" stroke-width="1.2"/>
<path d="M521,166.5 Q528,161 533.5,160.5 L532,163.5 Q526,165.5 522.5,169 Z" fill="#000" stroke-width="0.8"/>
<path d="M529,180.5 Q536,173.5 543,170.5" fill="none" stroke-width="1.1"/>
<path d="M530,190.5 Q538,184.5 548.5,181.5" fill="none" stroke-width="1.1"/>
<path d="M492.3,150.2 L493.9,156.9 L482.6,152.7 L488.1,161.9 L481.4,164 L482.2,167.8 L488.9,174.5 L488.5,182.1 L488.9,183.6 L492.3,187.3 L497.7,188.2 L499.8,192.8 L503.2,200.3 L506.5,204.1 L509,200.7 L511.6,203.3 L519.9,212.1 L521.6,205.8 L527.5,209.1 L531.9,203 L531.1,197.6 L525.7,190.6 L527.2,182.8 L517.9,173.5 L519.5,171.2 L509.4,163.4 L511.7,158 L505.7,161.9 L496,151 Z"/>
<ellipse cx="507.4" cy="181.5" rx="13.4" ry="8.3" transform="rotate(60 507.4 181.5)"/>
<path d="M500.5,184.5 L509,181" fill="none" stroke-width="1.2"/>
</g>

<g transform="translate(305 28) scale(0.14684)">
 <path d="M298,75 Q298,50 325,50 L352,54 L470,106 L530,112 Q572,118 586,150 L632,288 Q637,318 606,326 L578,328 L520,292 L400,240 L330,150 Z" fill="#fff" stroke="#000" stroke-width="13" stroke-linejoin="round"/>
 <path d="M318,80 L352,72 L465,122 L525,128 Q556,134 568,160 L610,290 Q612,306 596,310" fill="none" stroke="#000" stroke-width="6"/>
 <circle cx="338" cy="93" r="13" fill="#fff" stroke="#000" stroke-width="10"/>
 <circle cx="528" cy="152" r="13" fill="#fff" stroke="#000" stroke-width="10"/>
 <circle cx="566" cy="297" r="13" fill="#fff" stroke="#000" stroke-width="10"/>
 <path d="M360,128 L470,118 L535,150 L552,235 L520,285 L430,312 L372,290 L340,205 Z" fill="#000"/>
 <path d="M470,135 Q520,170 505,255" fill="none" stroke="#fff" stroke-width="9"/>
 <path d="M440,150 Q475,185 468,240" fill="none" stroke="#fff" stroke-width="7"/>
 <ellipse cx="398" cy="268" rx="30" ry="26" fill="#fff"/>
 <path d="M415,245 Q450,250 440,300" fill="none" stroke="#000" stroke-width="16"/>
 <path d="M180,218 L262,156 L388,138 L398,168 L340,205 L250,240 Z" fill="#fff" stroke="#000" stroke-width="9" stroke-linejoin="round"/>
 <ellipse cx="322" cy="176" rx="66" ry="20" transform="rotate(-14 322 176)" fill="#000"/>
 <path d="M250,240 L340,205 L372,290 L430,312 L410,335 L330,352 L300,372 Z" fill="#fff" stroke="#000" stroke-width="9" stroke-linejoin="round"/>
 <path d="M262,250 L345,222 M300,300 L362,275" fill="none" stroke="#000" stroke-width="8"/>
 <path d="M318,338 L405,316" fill="none" stroke="#000" stroke-width="13"/>
 <path d="M352,232 L372,282" fill="none" stroke="#000" stroke-width="12"/>
 <path d="M330,225 L352,300 L340,345" fill="none" stroke="#000" stroke-width="8"/>
 <path d="M52,224 Q52,203 80,203 L185,222 L290,280 Q322,300 318,326 L300,372 L250,420 Q226,430 204,416 L62,250 Z" fill="#fff" stroke="#000" stroke-width="13" stroke-linejoin="round"/>
 <path d="M84,222 L180,240 L268,286 M300,372 L262,405" fill="none" stroke="#000" stroke-width="6"/>
 <ellipse cx="188" cy="313" rx="60" ry="41" transform="rotate(27 188 313)" fill="#fff" stroke="#000" stroke-width="12"/>
 <ellipse cx="194" cy="311" rx="46" ry="29" transform="rotate(27 194 311)" fill="#fff" stroke="#000" stroke-width="6"/>
 <circle cx="74" cy="232" r="12" fill="#fff" stroke="#000" stroke-width="10"/>
 <circle cx="214" cy="398" r="12" fill="#fff" stroke="#000" stroke-width="10"/>
 <circle cx="273" cy="297" r="13" fill="#fff" stroke="#000" stroke-width="10"/>
</g>

<g transform="translate(979.5 395.9) rotate(180)">
<g transform="translate(305 28) scale(0.14684)">
 <path d="M298,75 Q298,50 325,50 L352,54 L470,106 L530,112 Q572,118 586,150 L632,288 Q637,318 606,326 L578,328 L520,292 L400,240 L330,150 Z" fill="#fff" stroke="#000" stroke-width="13" stroke-linejoin="round"/>
 <path d="M318,80 L352,72 L465,122 L525,128 Q556,134 568,160 L610,290 Q612,306 596,310" fill="none" stroke="#000" stroke-width="6"/>
 <circle cx="338" cy="93" r="13" fill="#fff" stroke="#000" stroke-width="10"/>
 <circle cx="528" cy="152" r="13" fill="#fff" stroke="#000" stroke-width="10"/>
 <circle cx="566" cy="297" r="13" fill="#fff" stroke="#000" stroke-width="10"/>
 <path d="M360,128 L470,118 L535,150 L552,235 L520,285 L430,312 L372,290 L340,205 Z" fill="#000"/>
 <path d="M470,135 Q520,170 505,255" fill="none" stroke="#fff" stroke-width="9"/>
 <path d="M440,150 Q475,185 468,240" fill="none" stroke="#fff" stroke-width="7"/>
 <ellipse cx="398" cy="268" rx="30" ry="26" fill="#fff"/>
 <path d="M415,245 Q450,250 440,300" fill="none" stroke="#000" stroke-width="16"/>
 <path d="M180,218 L262,156 L388,138 L398,168 L340,205 L250,240 Z" fill="#fff" stroke="#000" stroke-width="9" stroke-linejoin="round"/>
 <ellipse cx="322" cy="176" rx="66" ry="20" transform="rotate(-14 322 176)" fill="#000"/>
 <path d="M250,240 L340,205 L372,290 L430,312 L410,335 L330,352 L300,372 Z" fill="#fff" stroke="#000" stroke-width="9" stroke-linejoin="round"/>
 <path d="M262,250 L345,222 M300,300 L362,275" fill="none" stroke="#000" stroke-width="8"/>
 <path d="M318,338 L405,316" fill="none" stroke="#000" stroke-width="13"/>
 <path d="M352,232 L372,282" fill="none" stroke="#000" stroke-width="12"/>
 <path d="M330,225 L352,300 L340,345" fill="none" stroke="#000" stroke-width="8"/>
 <path d="M52,224 Q52,203 80,203 L185,222 L290,280 Q322,300 318,326 L300,372 L250,420 Q226,430 204,416 L62,250 Z" fill="#fff" stroke="#000" stroke-width="13" stroke-linejoin="round"/>
 <path d="M84,222 L180,240 L268,286 M300,372 L262,405" fill="none" stroke="#000" stroke-width="6"/>
 <ellipse cx="188" cy="313" rx="60" ry="41" transform="rotate(27 188 313)" fill="#fff" stroke="#000" stroke-width="12"/>
 <ellipse cx="194" cy="311" rx="46" ry="29" transform="rotate(27 194 311)" fill="#fff" stroke="#000" stroke-width="6"/>
 <circle cx="74" cy="232" r="12" fill="#fff" stroke="#000" stroke-width="10"/>
 <circle cx="214" cy="398" r="12" fill="#fff" stroke="#000" stroke-width="10"/>
 <circle cx="273" cy="297" r="13" fill="#fff" stroke="#000" stroke-width="10"/>
</g>
</g>
<g transform="translate(125 105) scale(0.14684)">
 <path d="M296,78 Q298,46 340,46 L400,60 L470,98 L558,100 Q612,112 606,160 L582,192 L546,272 Q530,312 488,314 L452,300 L428,268 L505,222 L395,112 L335,130 Z" fill="#fff" stroke="none"/>
 <path d="M335,130 L296,78 Q298,46 340,46 L400,60 L470,98 L558,100 Q612,112 606,160 L582,192 L546,272 Q530,312 488,314 L452,300 L428,268" fill="none" stroke="#000" stroke-width="11" stroke-linejoin="round" stroke-linecap="round"/>
 <path d="M322,72 L398,80 L468,118 L550,120 Q585,128 582,155 L560,185 L528,262 Q518,290 492,292" fill="none" stroke="#000" stroke-width="6"/>
 <ellipse cx="338" cy="92" rx="17" ry="12" transform="rotate(30 338 92)" fill="#fff" stroke="#000" stroke-width="8"/>
 <ellipse cx="535" cy="142" rx="17" ry="12" transform="rotate(30 535 142)" fill="#fff" stroke="#000" stroke-width="8"/>
 <ellipse cx="482" cy="280" rx="17" ry="12" transform="rotate(30 482 280)" fill="#fff" stroke="#000" stroke-width="8"/>
 <path d="M395,112 L182,208 L302,308 L505,222 Z" fill="#fff"/>
 <path d="M395,112 L182,208 M505,222 L302,308" fill="none" stroke="#000" stroke-width="9"/>
 <ellipse cx="256" cy="262" rx="80" ry="50" transform="rotate(38 256 262)" fill="#fff" stroke="#000" stroke-width="9"/>
 <ellipse cx="240" cy="268" rx="80" ry="50" transform="rotate(38 240 268)" fill="#fff" stroke="#000" stroke-width="9"/>
 <path d="M112,262 L196,226 L268,318 L160,352 Z" fill="#fff"/>
 <path d="M70,272 L196,224 M160,358 L275,322" fill="none" stroke="#000" stroke-width="9"/>
 <path d="M150,245 Q200,280 215,340" fill="none" stroke="#000" stroke-width="8"/>
 <ellipse cx="110" cy="312" rx="64" ry="42" transform="rotate(38 110 312)" fill="#000" stroke="#000" stroke-width="9"/>
 <path d="M85,285 L100,300 M120,295 L128,322 M90,325 L112,338 M135,330 L150,345 M70,305 L80,318" stroke="#fff" stroke-width="7" fill="none"/>
</g>
<line class="ax" x1="168" y1="141.2" x2="204" y2="126.2"/>
<g transform="translate(810 200) scale(0.16779)">
 <path d="M150,172 Q168,150 214,158 L240,190 L255,235 L400,185 Q470,170 490,210 Q495,245 440,265 L330,305 L342,340 L372,360 L386,395 Q372,428 330,420 L300,400 L220,395 L160,372 L90,352 Q58,330 70,300 L96,270 Q80,240 100,215 L140,196 Z" fill="#fff" stroke="#000" stroke-width="14" stroke-linejoin="round"/>
 <path d="M160,190 L125,210 Q108,240 122,262 L100,296 Q92,320 112,334 L170,352 L225,376 L300,382 L328,398" fill="none" stroke="#000" stroke-width="6"/>
 <ellipse cx="205" cy="188" rx="17" ry="14" fill="#fff" stroke="#000" stroke-width="12"/>
 <ellipse cx="130" cy="322" rx="17" ry="14" fill="#fff" stroke="#000" stroke-width="12"/>
 <ellipse cx="346" cy="382" rx="17" ry="14" fill="#fff" stroke="#000" stroke-width="12"/>
 <path d="M255,235 L400,185 Q470,170 490,210 Q495,245 440,265 L300,315 Q268,305 255,235 Z" fill="#fff" stroke="#000" stroke-width="10" stroke-linejoin="round"/>
 <path d="M262,252 L440,190 M268,272 L470,204 M276,292 L480,224 M292,308 L462,250" fill="none" stroke="#000" stroke-width="13"/>
 <circle cx="455" cy="213" r="10" fill="#fff" stroke="#000" stroke-width="7"/>
 <path d="M205,247 L246,233 M210,292 L252,278 M270,332 L312,318" fill="none" stroke="#000" stroke-width="8"/>
</g>
<g transform="translate(140 290) scale(0.14684)">
 <path d="M86,106 Q95,74 136,82 L176,100 L216,120 L250,100 Q286,90 316,106 L336,140 L342,200 L336,246 L366,296 Q366,332 330,336 L296,326 L250,296 L200,290 L170,316 Q140,322 120,296 L124,256 L140,216 L120,170 L90,130 Z" fill="#fff" stroke="#000" stroke-width="18" stroke-linejoin="round"/>
 <path d="M296,112 Q326,200 320,250 L348,302" fill="none" stroke="#000" stroke-width="10"/>
 <path d="M272,165 Q296,210 290,262 L300,290" fill="none" stroke="#000" stroke-width="9"/>
 <path d="M120,140 L150,190 M140,250 L132,280 M215,128 L240,140" fill="none" stroke="#000" stroke-width="8"/>
 <circle cx="110" cy="110" r="12" fill="#fff" stroke="#000" stroke-width="9"/>
 <circle cx="268" cy="130" r="13" fill="#fff" stroke="#000" stroke-width="9"/>
 <circle cx="150" cy="290" r="12" fill="#fff" stroke="#000" stroke-width="9"/>
 <circle cx="318" cy="310" r="13" fill="#fff" stroke="#000" stroke-width="9"/>
 <ellipse cx="205" cy="208" rx="68" ry="80" transform="rotate(-20 205 208)" fill="#000"/>
 <ellipse cx="207" cy="206" rx="50" ry="60" transform="rotate(-20 207 206)" fill="#fff"/>
 <ellipse cx="208" cy="205" rx="41" ry="49" transform="rotate(-20 208 205)" fill="#000"/>
 <ellipse cx="209" cy="204" rx="25" ry="31" transform="rotate(-20 209 204)" fill="#fff"/>
 <path d="M203,186 Q222,202 214,226" fill="none" stroke="#000" stroke-width="7"/>
</g>
<g transform="translate(310 405) scale(0.14684)">
 <path d="M120,150 Q130,124 166,125 L230,140 L276,120 Q300,95 340,100 L376,120 L386,160 L420,210 L470,240 L516,256 Q536,276 516,296 L470,302 L400,296 L370,322 Q340,342 304,330 L270,300 L234,240 L190,200 L135,176 Z" fill="#fff" stroke="#000" stroke-width="18" stroke-linejoin="round"/>
 <path d="M150,186 Q230,230 286,312" fill="none" stroke="#000" stroke-width="11"/>
 <ellipse cx="176" cy="150" rx="13" ry="9" fill="#fff" stroke="#000" stroke-width="8"/>
 <ellipse cx="336" cy="124" rx="15" ry="10" fill="#fff" stroke="#000" stroke-width="8"/>
 <ellipse cx="490" cy="268" rx="13" ry="9" fill="#fff" stroke="#000" stroke-width="8"/>
 <ellipse cx="336" cy="296" rx="15" ry="10" fill="#fff" stroke="#000" stroke-width="8"/>
 <ellipse cx="336" cy="212" rx="84" ry="56" transform="rotate(27 336 212)" fill="#000"/>
 <ellipse cx="338" cy="208" rx="60" ry="36" transform="rotate(27 338 208)" fill="#fff"/>
 <ellipse cx="340" cy="210" rx="44" ry="25" transform="rotate(27 340 210)" fill="#fff" stroke="#000" stroke-width="14"/>
</g>
<line class="ld" x1="331.3" y1="446" x2="342" y2="442.6"/>
<path class="p" d="M46.1,360.2 L43.2,365.2 L45.8,369.6 L53.9,375.3 L60.9,376.8 L62,362 Z"/>
<path class="pn" d="M45.8,369.6 L47.5,364.5 L46.1,360.2 M53.9,375.3 L55,371"/>
<ellipse class="pm" cx="59.6" cy="366.7" rx="14.1" ry="8.9" transform="rotate(27 59.6 366.7)"/>
<ellipse class="pm" cx="59.2" cy="366.3" rx="6.6" ry="4.3" transform="rotate(27 59.2 366.3)"/>
<ellipse class="p" cx="59.6" cy="366.8" rx="3.6" ry="2.2" transform="rotate(27 59.6 366.8)"/>
<line class="ld" x1="40.7" y1="373.7" x2="46.4" y2="372.1"/>
<path class="p" d="M484.2,376.4 L493,377 L503.1,385.2 L503.1,389.6 L500,390.8 L488,392 Z"/>
<path class="pn" d="M493,377 L500.5,385.6 L500,390.8 M500.5,385.6 L503.1,385.2"/>
<ellipse class="pm" cx="486.0" cy="385.8" rx="15.6" ry="7.6" transform="rotate(30 486.0 385.8)"/>
<ellipse class="pm" cx="486.6" cy="385.8" rx="6.6" ry="4.0" transform="rotate(30 486.6 385.8)"/>
<ellipse class="p" cx="487.0" cy="386.3" rx="3.6" ry="2.0" transform="rotate(30 487.0 386.3)"/>
<g transform="translate(348.0 110.0)" stroke="#222" fill="#fff" stroke-width="0.9" stroke-linejoin="round">
<path d="M-10.8,-1 L-7.5,-5.8 L-1.4,-7 L7,-4.4 L10.8,-0.2 L8.2,3.6 L3,6.6 L-4,6.8 L-8.6,3.4 Z"/>
<path d="M-8.6,3.4 L-6.8,-1.4 L-7.5,-5.8 M-6.8,-1.4 L0,-3 L7,-4.4 M5.5,-0.4 L8.2,3.6" fill="none"/>
<ellipse cx="-1.6" cy="3.2" rx="6.6" ry="3.8"/>
<ellipse cx="-1.6" cy="3.4" rx="4.2" ry="2.3"/>
<ellipse cx="-1.6" cy="3.5" rx="1.8" ry="1"/>
</g>
<g transform="translate(631.6 288.0)" stroke="#222" fill="#fff" stroke-width="0.9" stroke-linejoin="round">
<path d="M-10.8,-1 L-7.5,-5.8 L-1.4,-7 L7,-4.4 L10.8,-0.2 L8.2,3.6 L3,6.6 L-4,6.8 L-8.6,3.4 Z"/>
<path d="M-8.6,3.4 L-6.8,-1.4 L-7.5,-5.8 M-6.8,-1.4 L0,-3 L7,-4.4 M5.5,-0.4 L8.2,3.6" fill="none"/>
<ellipse cx="-1.6" cy="3.2" rx="6.6" ry="3.8"/>
<ellipse cx="-1.6" cy="3.4" rx="4.2" ry="2.3"/>
<ellipse cx="-1.6" cy="3.5" rx="1.8" ry="1"/>
</g>
<ellipse cx="708.8" cy="302.2" rx="1.9" ry="6.7" transform="rotate(-40 708.8 302.2)" fill="none" stroke="#000" stroke-width="2.1"/>
<ellipse cx="712.3" cy="301.1" rx="1.9" ry="6.6" transform="rotate(-40 712.3 301.1)" fill="none" stroke="#000" stroke-width="2.1"/>
<ellipse cx="715.9" cy="300.0" rx="1.9" ry="6.4" transform="rotate(-40 715.9 300.0)" fill="none" stroke="#000" stroke-width="2.1"/>
<ellipse cx="719.4" cy="298.9" rx="1.9" ry="6.3" transform="rotate(-40 719.4 298.9)" fill="none" stroke="#000" stroke-width="2.1"/>
<ellipse cx="722.9" cy="297.7" rx="1.9" ry="6.1" transform="rotate(-40 722.9 297.7)" fill="none" stroke="#000" stroke-width="2.1"/>
<ellipse cx="726.4" cy="296.6" rx="1.9" ry="6.0" transform="rotate(-40 726.4 296.6)" fill="none" stroke="#000" stroke-width="2.1"/>
<ellipse cx="730.0" cy="295.5" rx="1.9" ry="5.8" transform="rotate(-40 730.0 295.5)" fill="none" stroke="#000" stroke-width="2.1"/>
<ellipse cx="733.5" cy="294.4" rx="1.9" ry="5.7" transform="rotate(-40 733.5 294.4)" fill="none" stroke="#000" stroke-width="2.1"/>
<circle cx="737.6" cy="297.6" r="1.8" fill="#000"/>
<ellipse cx="19.6" cy="229.0" rx="1.3" ry="5.0" transform="rotate(-35 19.6 229.0)" fill="none" stroke="#000" stroke-width="2.1"/>
<ellipse cx="22.6" cy="227.6" rx="1.3" ry="4.9" transform="rotate(-35 22.6 227.6)" fill="none" stroke="#000" stroke-width="2.1"/>
<ellipse cx="25.7" cy="226.1" rx="1.3" ry="4.8" transform="rotate(-35 25.7 226.1)" fill="none" stroke="#000" stroke-width="2.1"/>
<ellipse cx="28.7" cy="224.7" rx="1.3" ry="4.6" transform="rotate(-35 28.7 224.7)" fill="none" stroke="#000" stroke-width="2.1"/>
<ellipse cx="31.7" cy="223.2" rx="1.3" ry="4.5" transform="rotate(-35 31.7 223.2)" fill="none" stroke="#000" stroke-width="2.1"/>
<ellipse cx="34.8" cy="221.8" rx="1.3" ry="4.4" transform="rotate(-35 34.8 221.8)" fill="none" stroke="#000" stroke-width="2.1"/>
<ellipse cx="37.8" cy="220.3" rx="1.3" ry="4.2" transform="rotate(-35 37.8 220.3)" fill="none" stroke="#000" stroke-width="2.1"/>
<circle cx="41.8" cy="222.8" r="1.6" fill="#000"/>
</g>
</g>
</svg>
</body></html>
